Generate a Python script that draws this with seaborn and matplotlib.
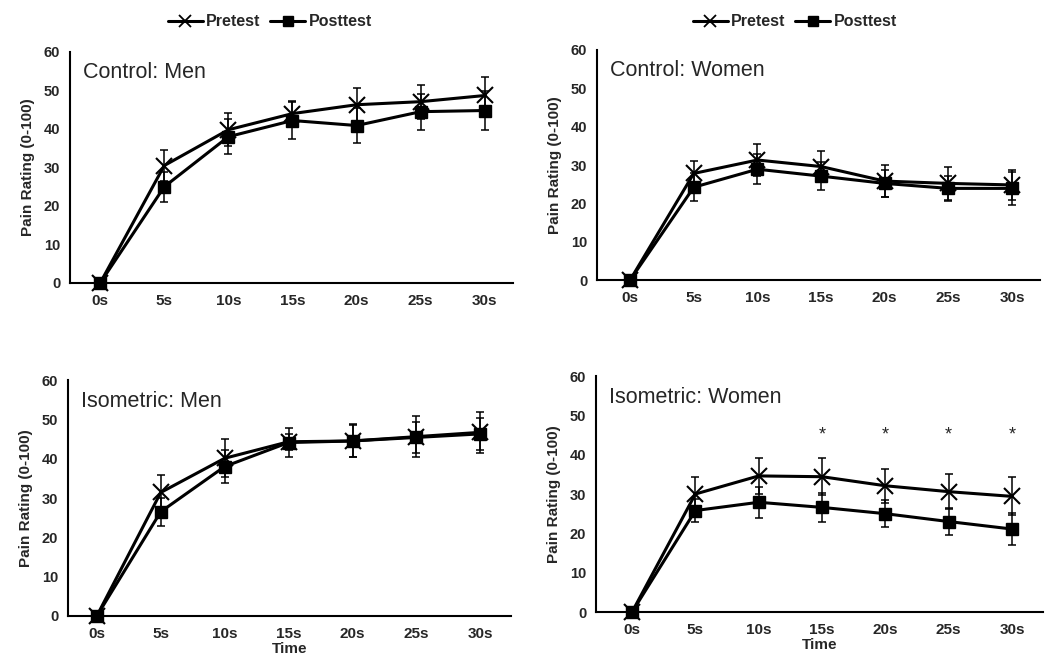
import numpy as np
import pandas as pd
import matplotlib
matplotlib.use("Agg")
import matplotlib.pyplot as plt
import seaborn as sns
from matplotlib.lines import Line2D

# --- data ---
TIMES = ["0s", "5s", "10s", "15s", "20s", "25s", "30s"]
PANELS = ["Control: Men", "Control: Women", "Isometric: Men", "Isometric: Women"]

ctrl_men_pre = [0, 30.5, 39.8, 44.0, 46.3, 47.1, 48.7]
ctrl_men_pre_err = [0, 4.0, 4.3, 3.3, 4.3, 4.4, 4.8]
ctrl_men_post = [0, 25.0, 38.0, 42.2, 40.9, 44.5, 44.8]
ctrl_men_post_err = [0, 3.9, 4.5, 4.8, 4.6, 4.7, 5.0]

ctrl_women_pre = [0, 27.8, 31.3, 29.6, 25.8, 25.2, 24.8]
ctrl_women_pre_err = [0, 3.2, 4.1, 4.1, 4.2, 4.4, 3.9]
ctrl_women_post = [0, 24.2, 28.9, 27.1, 25.2, 23.9, 23.9]
ctrl_women_post_err = [0, 3.6, 3.9, 3.6, 3.5, 3.3, 4.3]

iso_men_pre = [0, 31.4, 40.1, 44.3, 44.5, 45.6, 46.7]
iso_men_pre_err = [0, 4.4, 4.8, 2.0, 4.2, 5.2, 5.2]
iso_men_post = [0, 26.5, 38.0, 44.1, 44.5, 45.4, 46.3]
iso_men_post_err = [0, 3.5, 4.1, 3.8, 4.0, 3.9, 4.1]

iso_women_pre = [0, 30.0, 34.6, 34.4, 32.1, 30.6, 29.4]
iso_women_pre_err = [0, 4.4, 4.5, 4.7, 4.3, 4.4, 4.8]
iso_women_post = [0, 25.8, 27.9, 26.6, 25.0, 23.0, 21.1]
iso_women_post_err = [0, 3.0, 4.0, 3.6, 3.5, 3.4, 4.0]

sig_times = ["15s", "20s", "25s", "30s"]   # asterisks in Isometric: Women
sig_level = 45

pre = [ctrl_men_pre, ctrl_women_pre, iso_men_pre, iso_women_pre]
pre_err = [ctrl_men_pre_err, ctrl_women_pre_err, iso_men_pre_err, iso_women_pre_err]
post = [ctrl_men_post, ctrl_women_post, iso_men_post, iso_women_post]
post_err = [ctrl_men_post_err, ctrl_women_post_err, iso_men_post_err, iso_women_post_err]

rows = []
for p, name in enumerate(PANELS):
    for i, t in enumerate(TIMES):
        rows.append(dict(panel=name, time=t, idx=i, test="Pretest", rating=pre[p][i], err=pre_err[p][i]))
        rows.append(dict(panel=name, time=t, idx=i, test="Posttest", rating=post[p][i], err=post_err[p][i]))
df = pd.DataFrame(rows)

sns.set_theme(style="white")
plt.rcParams["font.family"] = ["Liberation Sans", "DejaVu Sans"]

fig = plt.figure(figsize=(10.5, 6.64), dpi=100)
# [left, bottom, width, height] of the four panels
boxes = [
    [0.0667, 0.5738, 0.4219, 0.3479],
    [0.5686, 0.5783, 0.4219, 0.3464],
    [0.0648, 0.0723, 0.4219, 0.3554],
    [0.5676, 0.0783, 0.4257, 0.3554],
]
xlims = [(-0.47, 6.44), (-0.52, 6.44), (-0.45, 6.48), (-0.57, 6.49)]

styles = {
    "Pretest": dict(marker="x", markersize=11, markeredgewidth=1.5),
    "Posttest": dict(marker="s", markersize=9, markeredgewidth=1.0),
}

for p, name in enumerate(PANELS):
    ax = fig.add_axes(boxes[p])
    sub = df[df.panel == name]
    for test in ["Pretest", "Posttest"]:
        s = sub[sub.test == test]
        ax.errorbar(s.idx, s.rating, yerr=s.err, fmt="none", ecolor="black",
                    elinewidth=1.1, capsize=3, capthick=1.1, zorder=2)
        sns.lineplot(data=s, x="idx", y="rating", color="black", linewidth=2.2,
                     markeredgecolor="black", legend=False, ax=ax, zorder=3,
                     clip_on=False, **styles[test])

    ax.set_xlim(*xlims[p])
    ax.set_ylim(0, 60)
    ax.set_yticks(range(0, 61, 10))
    ax.set_xticks(range(len(TIMES)))
    ax.set_xticklabels(TIMES)
    for sp in ["top", "right"]:
        ax.spines[sp].set_visible(False)
    for sp in ["left", "bottom"]:
        ax.spines[sp].set_color("black")
        ax.spines[sp].set_linewidth(1.5)
    ax.tick_params(axis="y", length=4, width=1.2, color="black", pad=3, labelsize=10.5)
    ax.tick_params(axis="x", length=0, pad=8, labelsize=11)
    for lab in ax.get_xticklabels() + ax.get_yticklabels():
        lab.set_fontweight("bold")
    ax.set_ylabel("Pain Rating (0-100)", fontsize=11, fontweight="bold", labelpad=6)
    ax.set_xlabel("Time" if p >= 2 else "", fontsize=11, fontweight="bold", labelpad=0.5)
    ax.text(0.03, 0.91, name, transform=ax.transAxes, fontsize=15.5, va="center", ha="left")
    if name == "Isometric: Women":
        for t in sig_times:
            ax.text(TIMES.index(t), sig_level, "*", ha="center", va="center", fontsize=13)

handles = [
    Line2D([], [], color="black", lw=2.2, marker="x", markersize=9, markeredgewidth=1.3),
    Line2D([], [], color="black", lw=2.2, marker="s", markersize=7),
]
for cx in [0.257, 0.757]:
    fig.legend(handles, ["Pretest", "Posttest"], loc="center", bbox_to_anchor=(cx, 0.967),
               ncol=2, frameon=False, handlelength=2.2, handletextpad=0.2, columnspacing=0.6,
               prop={"weight": "bold", "size": 11.5})

fig.savefig("out.png", dpi=100)
